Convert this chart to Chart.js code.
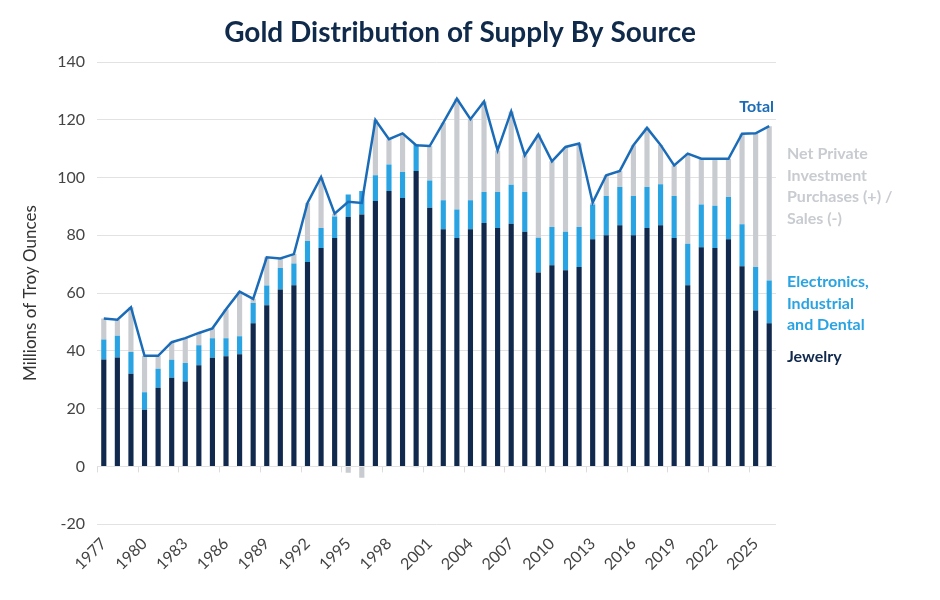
<!DOCTYPE html>
<html>
<head>
<meta charset="utf-8">
<title>Gold Distribution of Supply By Source</title>
<script src="https://cdn.jsdelivr.net/npm/chart.js@4.4.1/dist/chart.umd.min.js"></script>
<style>
    body { margin: 0; background: #ffffff; }
</style>
</head>
<body>
<canvas id="chart-gold-supply" width="940" height="600"></canvas>
<script>
/*
-------------------------------------------------------------------------
Data (millions of troy ounces)
-------------------------------------------------------------------------
*/
const labelsTahun = [
    "1977", "1978", "1979", "1980", "1981", "1982", "1983", "1984", "1985", "1986",
    "1987", "1988", "1989", "1990", "1991", "1992", "1993", "1994", "1995", "1996",
    "1997", "1998", "1999", "2000", "2001", "2002", "2003", "2004", "2005", "2006",
    "2007", "2008", "2009", "2010", "2011", "2012", "2013", "2014", "2015", "2016",
    "2017", "2018", "2019", "2020", "2021", "2022", "2023", "2024", "2025", "2026",
];
const dataJewelry = [
    37.0, 37.7, 32.1, 19.6, 27.2, 30.7, 29.4, 35.0, 37.6, 38.1,
    38.8, 49.6, 55.8, 61.2, 62.7, 70.8, 75.6, 79.1, 86.3, 87.2,
    91.9, 95.3, 92.9, 102.3, 89.5, 82.1, 79.1, 82.1, 84.3, 82.5,
    84.0, 81.2, 67.1, 69.6, 67.9, 69.0, 78.6, 80.0, 83.5, 80.0,
    82.5, 83.5, 79.1, 62.7, 75.9, 75.6, 78.6, 69.3, 54.0, 49.6,
];
const dataElectronics = [
    6.9, 7.5, 7.5, 6.1, 6.6, 6.2, 6.4, 6.9, 6.8, 6.3,
    6.3, 7.0, 6.8, 7.5, 7.5, 7.2, 6.9, 7.4, 7.8, 8.1,
    8.9, 9.2, 9.0, 9.2, 9.5, 10.0, 9.8, 10.0, 10.7, 12.5,
    13.5, 13.8, 12.1, 13.3, 13.3, 13.9, 12.1, 13.6, 13.2, 13.6,
    14.2, 14.2, 14.5, 14.4, 14.8, 14.6, 14.7, 14.5, 15.0, 14.8,
];
const dataInvestment = [
    7.3, 5.6, 15.5, 12.6, 4.5, 6.1, 8.6, 4.3, 3.4, 10.0,
    15.4, 1.4, 9.8, 3.3, 3.3, 13.2, 17.7, 1.0, -2.2, -3.9,
    19.1, 8.8, 13.4, -0.3, 11.9, 26.9, 38.4, 28.1, 31.3, 14.4,
    25.4, 12.7, 35.7, 22.7, 29.4, 28.9, 0.6, 7.2, 5.6, 17.6,
    20.5, 13.6, 10.6, 31.2, 15.8, 16.3, 13.2, 31.4, 46.3, 53.4,
];
const dataTotal = [
    51.2, 50.8, 55.1, 38.3, 38.3, 43.0, 44.4, 46.2, 47.8, 54.4,
    60.5, 58.0, 72.4, 72.0, 73.5, 91.2, 100.2, 87.5, 91.6, 91.2,
    119.9, 113.3, 115.3, 111.2, 110.9, 119.0, 127.3, 120.2, 126.3, 109.4,
    122.9, 107.7, 114.9, 105.6, 110.6, 111.8, 91.3, 100.8, 102.3, 111.2,
    117.2, 111.3, 104.2, 108.3, 106.5, 106.5, 106.5, 115.2, 115.3, 117.8,
];

const warnaNavy = "#10294d";
const warnaBiru = "#2aa3e3";
const warnaAbu = "#c8cbd0";
const warnaTotal = "#1b6cb8";
const fontUtama = "Lato, 'Open Sans', sans-serif";

// judul, label di sebelah kanan grafik + tick kecil di garis nol
const pluginLabelKanan = {
    id: "labelKanan",
    afterDraw(chart) {
        const ctx = chart.ctx;
        const x = chart.scales.x;
        const y = chart.scales.y;
        const y0 = y.getPixelForValue(0);

        ctx.save();
        // tick kecil tiap 3 tahun
        ctx.strokeStyle = "#dcdcdc";
        ctx.lineWidth = 1;
        for (let i = 0; i <= labelsTahun.length; i += 3) {
            const px = i < labelsTahun.length
                ? (x.getPixelForValue(i) + x.getPixelForValue(i - 1)) / 2
                : x.right;
            ctx.beginPath();
            ctx.moveTo(Math.round(px) + 0.5, y0);
            ctx.lineTo(Math.round(px) + 0.5, y0 + 6);
            ctx.stroke();
        }

        // judul
        ctx.fillStyle = "#0f2a4a";
        ctx.font = "bold 28px " + fontUtama;
        ctx.textAlign = "center";
        ctx.textBaseline = "middle";
        ctx.fillText("Gold Distribution of Supply By Source", 460, 33);

        ctx.font = "bold 16px " + fontUtama;
        ctx.fillStyle = warnaTotal;
        ctx.textAlign = "right";
        ctx.fillText("Total", 774, 107);

        ctx.textAlign = "left";
        const teksKanan = [
            { teks: ["Net Private", "Investment", "Purchases (+) /", "Sales (-)"], warna: warnaAbu, top: 154 },
            { teks: ["Electronics,", "Industrial", "and Dental"], warna: warnaBiru, top: 282 },
            { teks: ["Jewelry"], warna: warnaNavy, top: 357 },
        ];
        teksKanan.forEach((blok) => {
            ctx.fillStyle = blok.warna;
            blok.teks.forEach((baris, i) => {
                ctx.fillText(baris, 787, blok.top + i * 21.5);
            });
        });
        ctx.restore();
    },
};

const dataGold = {
    labels: labelsTahun,
    datasets: [
        {
            type: "line",
            label: "Total",
            data: dataTotal,
            borderColor: warnaTotal,
            borderWidth: 2.5,
            pointRadius: 0,
            tension: 0,
            stack: "total",
            order: 0,
        },
        {
            label: "Jewelry",
            data: dataJewelry,
            backgroundColor: warnaNavy,
            stack: "supply",
            barPercentage: 0.38,
            categoryPercentage: 1,
            order: 1,
        },
        {
            label: "Electronics, Industrial and Dental",
            data: dataElectronics,
            backgroundColor: warnaBiru,
            stack: "supply",
            barPercentage: 0.38,
            categoryPercentage: 1,
            order: 1,
        },
        {
            label: "Net Private Investment Purchases (+) / Sales (-)",
            data: dataInvestment,
            backgroundColor: warnaAbu,
            stack: "supply",
            barPercentage: 0.38,
            categoryPercentage: 1,
            order: 1,
        },
    ],
};

const configGold = {
    type: "bar",
    data: dataGold,
    plugins: [pluginLabelKanan],
    options: {
        responsive: false,
        animation: false,
        layout: {
            padding: { left: 0, right: 164, top: 62, bottom: 24 },
        },
        plugins: {
            legend: {
                display: false,
            },
            tooltip: {
                enabled: false,
            },
        },
        scales: {
            x: {
                stacked: true,
                grid: {
                    display: false,
                },
                border: {
                    display: false,
                },
                ticks: {
                    autoSkip: false,
                    minRotation: 45,
                    maxRotation: 45,
                    color: "#444444",
                    font: { family: fontUtama, size: 16 },
                    padding: 2,
                    callback: function (value, index) {
                        // hanya tiap 3 tahun
                        return index % 3 === 0 ? labelsTahun[index] : "";
                    },
                },
            },
            y: {
                stacked: true,
                min: -20,
                max: 140,
                afterFit(scale) {
                    scale.width = 97;
                },
                ticks: {
                    stepSize: 20,
                    color: "#444444",
                    font: { family: fontUtama, size: 16 },
                    padding: 12,
                },
                title: {
                    display: true,
                    text: "Millions of Troy Ounces",
                    color: "#333333",
                    font: { family: fontUtama, size: 17 },
                    padding: { top: 20, bottom: 6 },
                },
                border: {
                    display: false,
                },
                grid: {
                    color: "#e2e2e2",
                    drawTicks: false,
                },
            },
        },
    },
};

new Chart(document.getElementById("chart-gold-supply"), configGold);
</script>
</body>
</html>
